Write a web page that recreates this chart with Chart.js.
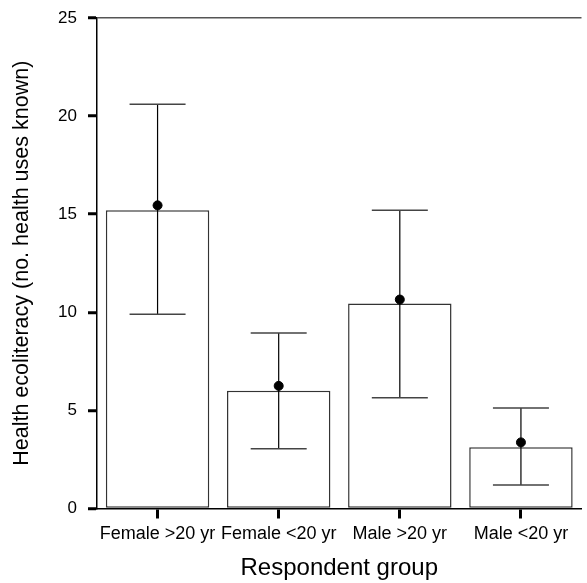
<!DOCTYPE html>
<html>
<head>
<meta charset="utf-8">
<script src="https://cdn.jsdelivr.net/npm/chart.js@4/dist/chart.umd.min.js"></script>
<style>
  html, body { margin: 0; padding: 0; background: #fff; }
  #wrap { width: 587px; height: 583px; }
</style>
</head>
<body>
<div id="wrap"><canvas id="chart"></canvas></div>
<script>
const categories = ['Female >20 yr', 'Female <20 yr', 'Male >20 yr', 'Male <20 yr'];
const barValues = [15.2, 6.0, 10.45, 3.12];
const pointValues = [15.45, 6.25, 10.65, 3.37];
const errLow = [9.9, 3.05, 5.65, 1.2];
const errHigh = [20.6, 8.95, 15.2, 5.12];
const yTicks = [0, 5, 10, 15, 20, 25];

const fontFamily = '"Liberation Sans", Arial, sans-serif';

// error bars go on top of the bars but under the dots
const errorBars = {
    id: 'errorBars',
    afterDatasetDraw(chart, args) {
        if (args.index !== 0) return;
        const ctx = chart.ctx;
        const x = chart.scales.x;
        const y = chart.scales.y;
        ctx.save();
        categories.forEach((c, i) => {
            const cx = x.getPixelForValue(i);
            const top = y.getPixelForValue(errHigh[i]);
            const bot = y.getPixelForValue(errLow[i]);
            ctx.strokeStyle = '#000';
            ctx.lineWidth = 1.2;
            ctx.beginPath();
            ctx.moveTo(cx, top);
            ctx.lineTo(cx, bot);
            ctx.stroke();
            ctx.strokeStyle = '#444';
            ctx.lineWidth = 1.5;
            ctx.beginPath();
            ctx.moveTo(cx - 28, top);
            ctx.lineTo(cx + 28, top);
            ctx.moveTo(cx - 28, bot);
            ctx.lineTo(cx + 28, bot);
            ctx.stroke();
        });
        ctx.restore();
    }
};

new Chart(document.getElementById('chart'), {
    type: 'bar',
    data: {
        labels: categories,
        datasets: [{
            type: 'bar',
            data: barValues,
            backgroundColor: '#fff',
            borderColor: '#333',
            borderWidth: 1.5,
            borderSkipped: false,
            barPercentage: 0.854,
            categoryPercentage: 1,
            order: 2
        }, {
            type: 'line',
            data: pointValues,
            showLine: false,
            pointRadius: 4.5,
            pointBackgroundColor: '#000',
            pointBorderColor: '#000',
            order: 1
        }]
    },
    options: {
        responsive: true,
        maintainAspectRatio: false,
        animation: false,
        layout: { padding: { top: 18, right: 0, left: 0, bottom: 0 } },
        plugins: { legend: { display: false }, tooltip: { enabled: false } },
        scales: {
            x: {
                offset: true,
                grid: {
                    offset: false,
                    drawOnChartArea: false,
                    tickLength: 10,
                    tickWidth: 3,
                    tickColor: '#000'
                },
                border: { display: true, color: '#000', width: 1.5 },
                ticks: {
                    color: '#000',
                    font: { family: fontFamily, size: 18 },
                    padding: 5,
                    maxRotation: 0,
                    autoSkip: false
                },
                title: {
                    display: true,
                    text: 'Respondent group',
                    color: '#000',
                    font: { family: fontFamily, size: 24 },
                    padding: { top: 0, bottom: 0 }
                },
                afterFit(scale) { scale.height = 74.5; }
            },
            y: {
                min: 0,
                max: 25,
                afterBuildTicks(scale) { scale.ticks = yTicks.map(v => ({ value: v })); },
                grid: {
                    drawOnChartArea: true,
                    color: ctx => (ctx.tick && ctx.tick.value === 25) ? '#555' : 'rgba(0,0,0,0)',
                    lineWidth: 1.5,
                    tickLength: 9,
                    tickWidth: 3,
                    tickColor: '#000'
                },
                border: { display: true, color: '#000', width: 1.5 },
                ticks: {
                    color: '#000',
                    font: { family: fontFamily, size: 17 },
                    padding: 11
                },
                title: {
                    display: true,
                    text: 'Health ecoliteracy (no. health uses known)',
                    color: '#000',
                    font: { family: fontFamily, size: 21.5 },
                    padding: { top: 9, bottom: 0 }
                },
                afterFit(scale) {
                    scale.width = 97;
                    scale.paddingTop = 0;
                    scale.paddingBottom = 0;
                }
            }
        }
    },
    plugins: [errorBars]
});
</script>
</body>
</html>
